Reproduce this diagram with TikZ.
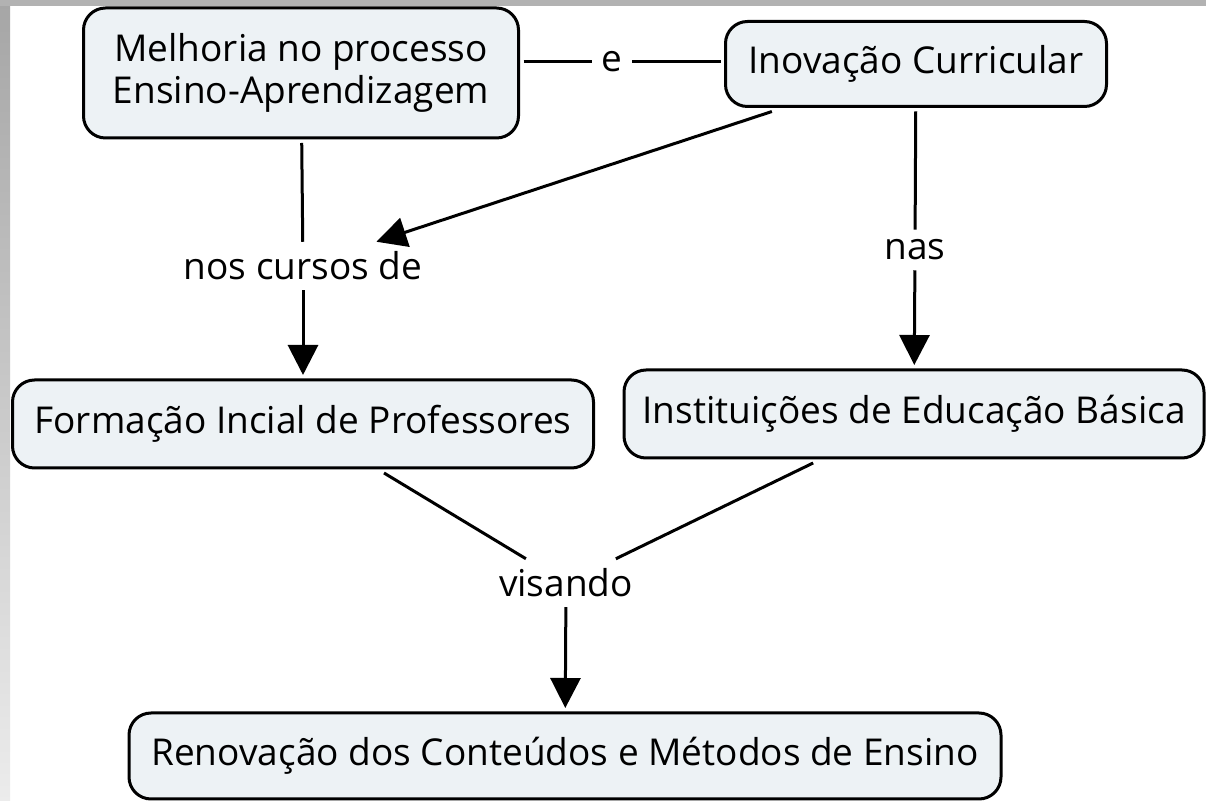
\documentclass[tikz,border=0pt]{standalone}
\usepackage{fontspec}
\setmainfont{Open Sans}
\usetikzlibrary{arrows.meta, positioning}

\definecolor{boxfill}{HTML}{EDF2F5}

\begin{document}
\begin{tikzpicture}[x=0.5pt, y=-0.5pt, line width=1.5pt,
        >={Triangle[width=15pt, length=15pt]},
        concept/.style={draw, fill=boxfill, rounded corners=11pt, line width=1.5pt,
            align=center, inner sep=0pt, outer sep=2.5pt, font=\fontsize{18.5}{21}\selectfont},
        phrase/.style={inner sep=2pt, outer sep=3pt, font=\fontsize{18.5}{21}\selectfont}]
    % background
    \fill[white] (0,0) rectangle (1206,801);
    \shade[top color=gray!70, bottom color=gray!15] (0,0) rectangle (10,801);
    \fill[gray!60] (0,0) rectangle (1206,6);

    % concepts
    \node [concept, minimum width=217.5pt, minimum height=65pt] (melh) at (301, 73) {Melhoria no processo\\Ensino-Aprendizagem};
    \node [concept, minimum width=190.5pt, minimum height=42.5pt] (inov) at (916, 64) {Inovação Curricular};
    \node [concept, minimum width=290.5pt, minimum height=44pt] (form) at (303, 424) {Formação Incial de Professores};
    \node [concept, minimum width=290pt, minimum height=44pt] (inst) at (914, 414) {Instituições de Educação Básica};
    \node [concept, minimum width=436pt, minimum height=43pt] (reno) at (565, 756) {Renovação dos Conteúdos e Métodos de Ensino};

    % linking phrases
    \node [phrase] (e) at (612, 62) {e};
    \node [phrase] (nos) at (303, 266) {nos cursos de};
    \node [phrase] (nas) at (915, 250) {nas};
    \node [phrase] (vis) at (566, 583) {visando};

    % links
    \draw (melh.east |- e) -- (e);
    \draw (e) -- (inov.west |- e);
    \draw (melh) -- (nos);
    \draw [->] (nos) -- (form);
    \draw [->] (inov) -- (nos);
    \draw (inov) -- (nas);
    \draw [->] (nas) -- (inst);
    \draw (form) -- (vis);
    \draw (inst) -- (vis);
    \draw [->] (vis) -- (reno);
\end{tikzpicture}
\end{document}
